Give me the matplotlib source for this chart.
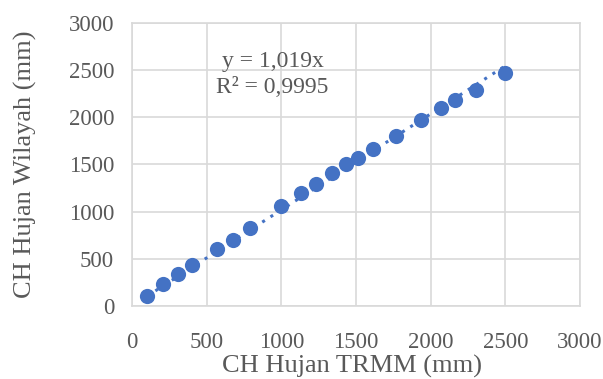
import numpy as np
import matplotlib.pyplot as plt

# values
trmm = [101, 204, 307, 401, 572, 675, 789, 995, 1132, 1233, 1336, 1435,
        1516, 1614, 1767, 1935, 2069, 2165, 2305, 2495]
wilayah = [106, 230, 333, 429, 598, 700, 828, 1061, 1199, 1295, 1405, 1500,
           1564, 1666, 1804, 1974, 2101, 2186, 2286, 2466]
slope = 1.019
ticks = [0, 500, 1000, 1500, 2000, 2500, 3000]

plt.rcParams['font.family'] = ['Liberation Serif', 'DejaVu Serif']
grey = "#595959"
grid_c = "#D9D9D9"
blue = "#4472C4"

fig = plt.figure(figsize=(6.03, 3.79), dpi=100)
ax = fig.add_axes([0.219, 0.193, 0.743, 0.746])

# trendline through origin
xs = np.array([min(trmm), max(trmm)])
ax.plot(xs, slope * xs, linestyle=(0, (1, 2.2)), color=blue, lw=2.2, zorder=2)
ax.scatter(trmm, wilayah, s=120, color=blue, zorder=3, linewidths=0)

ax.set_xlim(0, 3000)
ax.set_ylim(0, 3000)
ax.set_xticks(ticks)
ax.set_yticks(ticks)
ax.grid(True, color=grid_c, lw=1.2)
ax.set_axisbelow(True)
for s in ax.spines.values():
    s.set_color(grid_c)
    s.set_linewidth(1.2)
ax.tick_params(length=0, labelsize=16.5, colors=grey)
ax.tick_params(axis="x", pad=19)
ax.tick_params(axis="y", pad=13)

ax.set_xlabel("CH Hujan TRMM (mm)", fontsize=19, color=grey, va="center")
ax.set_ylabel("CH Hujan Wilayah (mm)", fontsize=19, color=grey, va="center")
ax.xaxis.set_label_coords(0.49, -0.215)
ax.yaxis.set_label_coords(-0.239, 0.5)

ax.text(940, 2455, "y = 1,019x\nR² = 0,9995", fontsize=17, color=grey,
        ha="center", va="center", linespacing=1.35)

fig.savefig("out.png", dpi=100)
